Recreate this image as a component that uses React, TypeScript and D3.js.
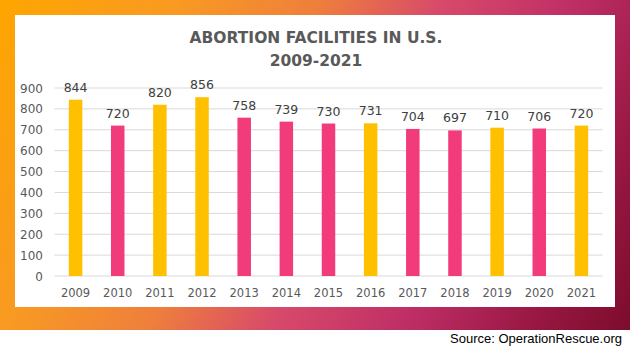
import { scaleBand, scaleLinear } from 'd3';

const years = ['2009', '2010', '2011', '2012', '2013', '2014', '2015', '2016', '2017', '2018', '2019', '2020', '2021'];
const facilities = [844, 720, 820, 856, 758, 739, 730, 731, 704, 697, 710, 706, 720];
const barColors = ['#FFC000', '#F23B7A', '#FFC000', '#FFC000', '#F23B7A', '#F23B7A', '#F23B7A', '#FFC000', '#F23B7A', '#F23B7A', '#FFC000', '#F23B7A', '#FFC000'];
const yTicks = [0, 100, 200, 300, 400, 500, 600, 700, 800, 900];

const W = 630;
const H = 352;
const FONT = '"DejaVu Sans", sans-serif';

export default function App() {
  const x = scaleBand<string>().domain(years).range([54.5, 602.5]).paddingInner(0.68).paddingOuter(0.34);
  const y = scaleLinear().domain([0, 900]).range([276, 88]);

  return (
    <svg width={W} height={H} style={{ position: 'absolute', left: 0, top: 0, display: 'block' }}>
      <defs>
        <linearGradient id="bg" gradientUnits="userSpaceOnUse" x1={0} y1={0} x2={630} y2={330}>
          <stop offset="0" stopColor="#FFA500" />
          <stop offset="0.22" stopColor="#F99A22" />
          <stop offset="0.4" stopColor="#EE7F3C" />
          <stop offset="0.55" stopColor="#D84A6A" />
          <stop offset="0.72" stopColor="#BE2E66" />
          <stop offset="0.87" stopColor="#9A1844" />
          <stop offset="1" stopColor="#7C0C2C" />
        </linearGradient>
      </defs>
      <rect x={0} y={0} width={W} height={H} fill="#fff" />
      <rect x={0} y={0} width={W} height={330} fill="url(#bg)" />
      <rect x={15} y={15} width={600} height={292} fill="#fff" />

      {/* title */}
      <text x={316} y={43} textAnchor="middle" fontFamily={FONT} fontWeight="bold" fontSize={15.5} fill="#595959">
        ABORTION FACILITIES IN U.S.
      </text>
      <text x={316} y={66} textAnchor="middle" fontFamily={FONT} fontWeight="bold" fontSize={15.5} fill="#595959">
        2009-2021
      </text>

      {yTicks.map((t) => (
        <g key={t}>
          <line x1={54.5} x2={602.5} y1={y(t)} y2={y(t)} stroke="#D9D9D9" strokeWidth={1} />
          <text x={43} y={y(t) + 4.5} textAnchor="end" fontFamily={FONT} fontSize={12} fill="#595959">
            {t}
          </text>
        </g>
      ))}

      {years.map((yr, i) => {
        const bx = x(yr) ?? 0;
        const cx = bx + x.bandwidth() / 2;
        return (
          <g key={yr}>
            <rect x={bx} y={y(facilities[i])} width={x.bandwidth()} height={y(0) - y(facilities[i])} fill={barColors[i]} />
            <text x={cx} y={y(facilities[i]) - 8} textAnchor="middle" fontFamily={FONT} fontSize={12.5} fill="#404040">
              {facilities[i]}
            </text>
            <text x={cx} y={297} textAnchor="middle" fontFamily={FONT} fontSize={11.5} fill="#595959">
              {yr}
            </text>
          </g>
        );
      })}

      <text x={622} y={343} textAnchor="end" fontFamily='"Liberation Sans", Arial, sans-serif' fontSize={13} fill="#000">
        Source: OperationRescue.org
      </text>
    </svg>
  );
}
